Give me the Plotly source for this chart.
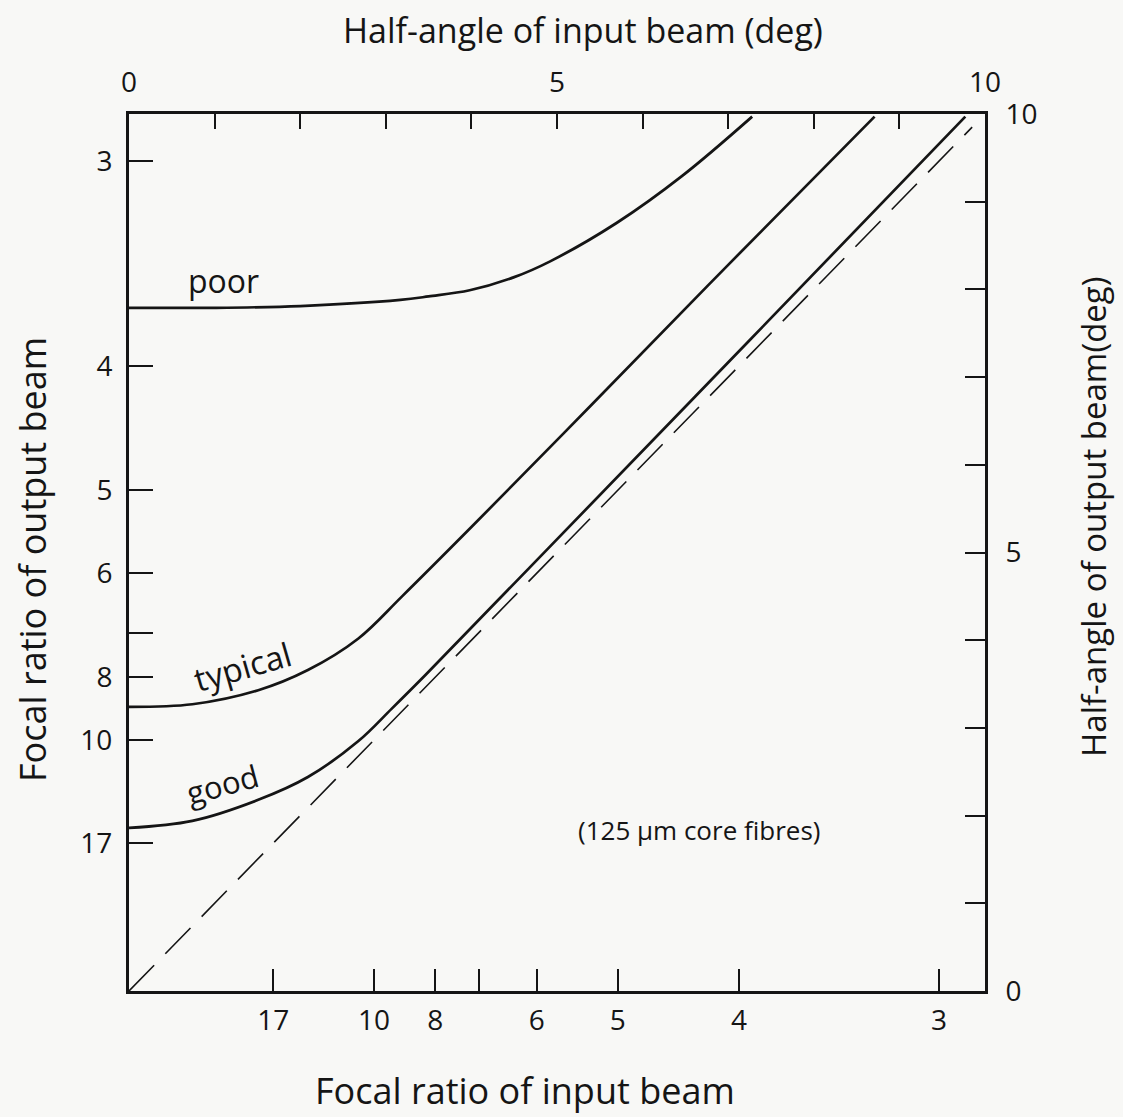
import math
import plotly.graph_objects as go

# ---- data (degrees) ----
poor_in = [0.0, 1.0, 2.0, 3.17, 3.5, 3.98, 4.5, 4.92, 5.70, 6.47, 7.28]
poor_out = [7.79, 7.79, 7.81, 7.88, 7.92, 7.99, 8.14, 8.32, 8.76, 9.30, 9.97]

typical_in = [0.0, 0.74, 1.51, 2.09, 2.68, 3.19, 4.0, 5.39, 7.0, 8.71]
typical_out = [3.24, 3.27, 3.43, 3.66, 4.02, 4.50, 5.29, 6.67, 8.28, 9.97]

good_in = [0.0, 0.74, 1.51, 2.09, 2.68, 3.07, 3.46, 4.92, 7.25, 9.77]
good_out = [1.86, 1.94, 2.18, 2.44, 2.85, 3.22, 3.60, 5.07, 7.42, 9.97]

equal_in = [0.0, 9.85]
equal_out = [0.0, 9.85]

input_focal_ratios = [17, 10, 8, 7, 6, 5, 4, 3]
input_focal_labels = ["17", "10", "8", "", "6", "5", "4", "3"]
output_focal_ratios = [3, 4, 5, 6, 7, 8, 10, 17]
output_focal_labels = ["3", "4", "5", "6", "", "8", "10", "17"]
angle_ticks = [0, 1, 2, 3, 4, 5, 6, 7, 8, 9, 10]
angle_labels = ["0", "", "", "", "", "5", "", "", "", "", "10"]


def half_angle(n):
    return math.degrees(math.atan(1.0 / (2.0 * n)))


INK = "#151515"
FONT = "Open Sans"

fig = go.Figure()
for xs, ys in [(poor_in, poor_out), (typical_in, typical_out), (good_in, good_out)]:
    fig.add_trace(go.Scatter(x=xs, y=ys, mode="lines",
                             line=dict(color=INK, width=2.7, shape="spline", smoothing=1.0),
                             showlegend=False, hoverinfo="skip"))
fig.add_trace(go.Scatter(x=equal_in, y=equal_out, mode="lines",
                         line=dict(color=INK, width=1.6, dash="36px,16px"),
                         showlegend=False, hoverinfo="skip"))
# invisible trace on secondary axes so they render
fig.add_trace(go.Scatter(x=[0], y=[0], xaxis="x2", yaxis="y2", mode="markers",
                         marker=dict(opacity=0), showlegend=False, hoverinfo="skip"))

axis_common = dict(range=[0, 10], showline=True, linewidth=3, linecolor=INK,
                   showgrid=False, zeroline=False, ticks="inside", tickwidth=2,
                   tickcolor=INK, tickfont=dict(family=FONT, size=28, color=INK))

fig.update_layout(
    width=1123, height=1117,
    margin=dict(l=129, r=138, t=114, b=126),
    paper_bgcolor="#f8f8f6", plot_bgcolor="#f8f8f6",
    xaxis=dict(**axis_common, side="bottom", ticklen=22, ticklabelstandoff=2,
               tickvals=[half_angle(n) for n in input_focal_ratios],
               ticktext=input_focal_labels),
    xaxis2=dict(**axis_common, side="top", overlaying="x", anchor="y", ticklen=15,
                ticklabelstandoff=8, tickvals=angle_ticks, ticktext=angle_labels),
    yaxis=dict(**axis_common, side="left", ticklen=24, ticklabelstandoff=8,
               tickvals=[half_angle(n) for n in output_focal_ratios],
               ticktext=output_focal_labels),
    yaxis2=dict(**axis_common, side="right", overlaying="y", anchor="x", ticklen=20,
                ticklabelstandoff=12, tickvals=angle_ticks, ticktext=angle_labels),
)

annots = [
    dict(text="Half-angle of input beam (deg)", x=583, y=30, angle=0, size=34),
    dict(text="Focal ratio of input beam", x=525, y=1090, angle=0, size=36),
    dict(text="Focal ratio of output beam", x=32, y=560, angle=-90, size=36),
    dict(text="Half-angle of output beam(deg)", x=1093, y=517, angle=-90, size=33),
]
W, H = 1123, 1117
L, R, T, B = 129, 138, 114, 126
pw, ph = W - L - R, H - T - B
for a in annots:
    fig.add_annotation(text=a["text"], xref="paper", yref="paper",
                       x=(a["x"] - L) / pw, y=(H - B - a["y"]) / ph,
                       xanchor="center", yanchor="middle", textangle=a["angle"],
                       showarrow=False, font=dict(family=FONT, size=a["size"], color=INK))


def lf(size):
    return dict(family=FONT, size=size, color=INK)


fig.add_annotation(text="poor", x=1.10, y=8.10, showarrow=False, font=lf(32))
fig.add_annotation(text="typical", x=1.33, y=3.70, textangle=-16, showarrow=False, font=lf(33))
fig.add_annotation(text="good", x=1.09, y=2.36, textangle=-15, showarrow=False, font=lf(31))
fig.add_annotation(text="(125 μm core fibres)", x=6.67, y=1.84, showarrow=False, font=lf(26))

fig.write_html("out.html")
